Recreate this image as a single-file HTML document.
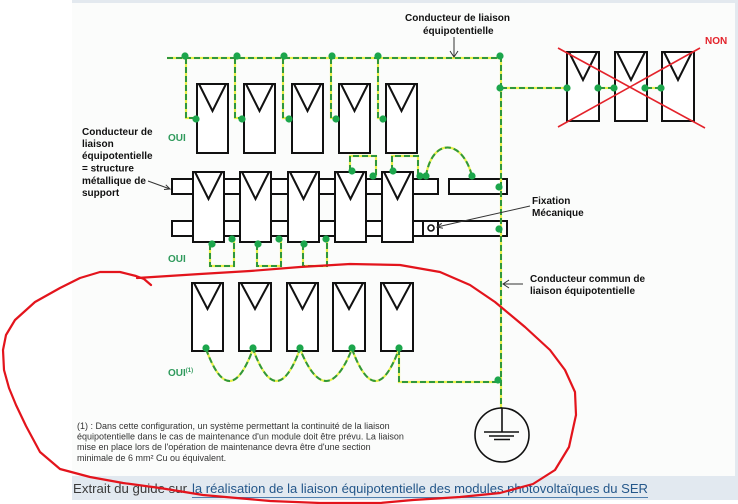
<!DOCTYPE html>
<html><head><meta charset="utf-8"><style>
html,body{margin:0;padding:0;background:#fff;}
svg{display:block}
</style></head><body>
<svg width="738" height="504" viewBox="0 0 738 504" xmlns="http://www.w3.org/2000/svg" font-family="'Liberation Sans', Arial, sans-serif">
<defs>
<g id="wires" fill="none">
  <path d="M167,58 H501"/>
  <path d="M501,56 V408"/>
  <path d="M186,58 V118 H197"/>
  <path d="M235,58 V118 H244"/>
  <path d="M283,58 V118 H292"/>
  <path d="M331,58 V118 H339"/>
  <path d="M378,58 V118 H386"/>
  <path d="M501,88 H567"/>
  <path d="M599,88 H615"/>
  <path d="M646,88 H662"/>
  <path d="M350,171 V156 H376 V176"/>
  <path d="M392,171 V156 H418 V176 H420"/>
  <path d="M426,176 C432,138 462,138 472,176"/>
  <path d="M210,244 V266 H234 V239"/>
  <path d="M257,244 V266 H281 V239"/>
  <path d="M303,244 V266 H327 V239"/>
  <path d="M206,349 Q229.5,413 253,349 Q276.5,413 300,349 Q326,413 352,349 Q375.5,413 399,349"/>
  <path d="M399,349 V382 H501"/>
</g>
</defs>

<!-- background -->
<rect x="0" y="0" width="738" height="504" fill="#ffffff"/>
<rect x="72" y="0" width="666" height="3" fill="#e3e9ef"/>
<rect x="72" y="3" width="663" height="473" fill="#fbfcfb"/>
<rect x="735" y="0" width="3" height="500" fill="#e3e9ef"/>
<rect x="72" y="476" width="666" height="24" fill="#e2e9f0"/>

<!-- top row panels -->
<g fill="#fff" stroke="#111" stroke-width="2">
  <rect x="197" y="84" width="31" height="69"/>
  <rect x="244" y="84" width="31" height="69"/>
  <rect x="292" y="84" width="31" height="69"/>
  <rect x="339" y="84" width="31" height="69"/>
  <rect x="386" y="84" width="31" height="69"/>
</g>
<g fill="none" stroke="#111" stroke-width="2">
  <path d="M199,84 L212.5,111 L226,84"/>
  <path d="M246,84 L259.5,111 L273,84"/>
  <path d="M294,84 L307.5,111 L321,84"/>
  <path d="M341,84 L354.5,111 L368,84"/>
  <path d="M388,84 L401.5,111 L415,84"/>
</g>

<!-- NON panels -->
<g fill="#fff" stroke="#111" stroke-width="2">
  <rect x="567" y="52" width="32" height="69"/>
  <rect x="615" y="52" width="32" height="69"/>
  <rect x="662" y="52" width="32" height="69"/>
</g>
<g fill="none" stroke="#111" stroke-width="2">
  <path d="M569,52 L583,80 L597,52"/>
  <path d="M617,52 L631,80 L645,52"/>
  <path d="M664,52 L678,80 L692,52"/>
</g>

<!-- rails -->
<g fill="#fff" stroke="#111" stroke-width="2">
  <rect x="172" y="179" width="266" height="15"/>
  <rect x="449" y="179" width="58" height="15"/>
  <rect x="172" y="221" width="335" height="15"/>
</g>
<path d="M423,221 V236 M438,221 V236" stroke="#111" stroke-width="2"/>
<circle cx="431" cy="228" r="3" fill="none" stroke="#111" stroke-width="1.6"/>

<!-- middle panels -->
<g fill="#fff" stroke="#111" stroke-width="2">
  <rect x="193" y="172" width="31" height="70"/>
  <rect x="240" y="172" width="31" height="70"/>
  <rect x="288" y="172" width="31" height="70"/>
  <rect x="335" y="172" width="31" height="70"/>
  <rect x="382" y="172" width="31" height="70"/>
</g>
<g fill="none" stroke="#111" stroke-width="2">
  <path d="M195,172 L208.5,199 L222,172"/>
  <path d="M242,172 L255.5,199 L269,172"/>
  <path d="M290,172 L303.5,199 L317,172"/>
  <path d="M337,172 L350.5,199 L364,172"/>
  <path d="M384,172 L397.5,199 L411,172"/>
</g>

<!-- bottom panels -->
<g fill="#fff" stroke="#111" stroke-width="2">
  <rect x="192" y="283" width="31" height="68"/>
  <rect x="239" y="283" width="32" height="68"/>
  <rect x="287" y="283" width="31" height="68"/>
  <rect x="333" y="283" width="32" height="68"/>
  <rect x="381" y="283" width="32" height="68"/>
</g>
<g fill="none" stroke="#111" stroke-width="2">
  <path d="M194,283 L207.5,309 L221,283"/>
  <path d="M241,283 L255,309 L269,283"/>
  <path d="M289,283 L302.5,309 L316,283"/>
  <path d="M335,283 L349,309 L363,283"/>
  <path d="M383,283 L397,309 L411,283"/>
</g>

<!-- wires -->
<use href="#wires" stroke="#e9f04a" stroke-width="2.2"/>
<use href="#wires" stroke="#2f973c" stroke-width="2" stroke-dasharray="6 3"/>

<!-- dots -->
<g fill="#1ca64c">
  <circle cx="185" cy="56" r="3.6"/><circle cx="237" cy="56" r="3.6"/><circle cx="284" cy="56" r="3.6"/>
  <circle cx="332" cy="56" r="3.6"/><circle cx="378" cy="56" r="3.6"/><circle cx="500" cy="56" r="3.6"/>
  <circle cx="196" cy="119" r="3.6"/><circle cx="242" cy="119" r="3.6"/><circle cx="289" cy="119" r="3.6"/>
  <circle cx="336" cy="119" r="3.6"/><circle cx="383" cy="119" r="3.6"/>
  <circle cx="500" cy="88" r="3.6"/><circle cx="567" cy="88" r="3.6"/><circle cx="598" cy="88" r="3.6"/>
  <circle cx="614" cy="88" r="3.6"/><circle cx="645" cy="88" r="3.6"/><circle cx="661" cy="88" r="3.6"/>
  <circle cx="352" cy="171" r="3.6"/><circle cx="373" cy="176" r="3.6"/><circle cx="393" cy="171" r="3.6"/>
  <circle cx="420" cy="176" r="3.6"/><circle cx="426" cy="176" r="3.6"/><circle cx="472" cy="176" r="3.6"/>
  <circle cx="499" cy="187" r="3.6"/><circle cx="499" cy="229" r="3.6"/>
  <circle cx="212" cy="244" r="3.6"/><circle cx="232" cy="239" r="3.6"/><circle cx="258" cy="244" r="3.6"/>
  <circle cx="279" cy="239" r="3.6"/><circle cx="304" cy="244" r="3.6"/><circle cx="326" cy="239" r="3.6"/>
  <circle cx="206" cy="348" r="3.6"/><circle cx="253" cy="348" r="3.6"/><circle cx="300" cy="348" r="3.6"/>
  <circle cx="352" cy="348" r="3.6"/><circle cx="399" cy="348" r="3.6"/><circle cx="498" cy="380" r="3.6"/>
</g>

<!-- ground -->
<circle cx="502" cy="435" r="27" fill="none" stroke="#111" stroke-width="1.6"/>
<path d="M502,408 V432 M484,432 H519 M489,436 H514 M494,439.5 H510" stroke="#111" stroke-width="1.6" fill="none"/>

<!-- red X -->
<path d="M558,48 L705,128 M558,127 L700,48" stroke="#e3232b" stroke-width="1.6" fill="none"/>

<!-- arrows -->
<g stroke="#333" stroke-width="1" fill="none">
  <path d="M454,37 V57 M450,51 L454,57 L458,51"/>
  <path d="M148,181 L170,189 M165.8,184.8 L170,189 L164,189.5"/>
  <path d="M530,206 L437,227 M442.9,228.3 L437,227 L441.7,223.3"/>
  <path d="M523,284 H503 M509,280 L503,284 L509,288"/>
</g>

<!-- labels -->
<g font-size="10" font-weight="bold" fill="#111">
  <text x="405" y="21">Conducteur de liaison</text>
  <text x="423" y="34">équipotentielle</text>
  <text x="82" y="135">Conducteur de</text>
  <text x="82" y="147">liaison</text>
  <text x="82" y="159">équipotentielle</text>
  <text x="82" y="171.5">= structure</text>
  <text x="82" y="184">métallique de</text>
  <text x="82" y="196">support</text>
  <text x="532" y="204">Fixation</text>
  <text x="532" y="216">Mécanique</text>
  <text x="530" y="282">Conducteur commun de</text>
  <text x="530" y="294">liaison équipotentielle</text>
</g>
<g font-size="10" font-weight="bold" fill="#2f9a5c">
  <text x="168" y="141">OUI</text>
  <text x="168" y="262">OUI</text>
  <text x="168" y="376">OUI<tspan font-size="6" dy="-4">(1)</tspan></text>
</g>
<text x="705" y="44" font-size="10" font-weight="bold" fill="#e3232b">NON</text>

<!-- footnote -->
<g font-size="9" fill="#333">
  <text x="77" y="429">(1) : Dans cette configuration, un système permettant la continuité de la liaison</text>
  <text x="77" y="439.5">équipotentielle dans le cas de maintenance d'un module doit être prévu. La liaison</text>
  <text x="77" y="450">mise en place lors de l'opération de maintenance devra être d'une section</text>
  <text x="77" y="461">minimale de 6 mm² Cu ou équivalent.</text>
</g>

<!-- caption -->
<text x="73" y="493" font-size="13" fill="#3a3a3a" textLength="114" lengthAdjust="spacingAndGlyphs">Extrait du guide sur</text>
<text x="192" y="493" font-size="13" fill="#24578a" textLength="456" lengthAdjust="spacingAndGlyphs">la réalisation de la liaison équipotentielle des modules photovoltaïques du SER</text>
<path d="M192,497.5 H648" stroke="#4f7fae" stroke-width="1"/>

<!-- red freehand loop -->
<path d="M151,285 L144,279 L136,276 L120,272 L100,272 L80,278 L60,288 L35,302 L15,320 L6,335 L3,350 L4,370 L9,388 L16,405 L26,426 L40,452 L60,469 L90,477 L123,483 L160,488 L203,495 L270,501 L320,503 L380,503 L413,500 L460,497 L500,493 L533,484 L555,470 L569,447 L576,415 L575,392 L565,370 L550,350 L525,327 L495,302 L470,285 L440,272 L400,265 L350,264 L300,267 L250,271 L200,274 L137,278" fill="none" stroke="#e3141c" stroke-width="2.2" stroke-linejoin="round" stroke-linecap="round"/>
</svg>
</body></html>
